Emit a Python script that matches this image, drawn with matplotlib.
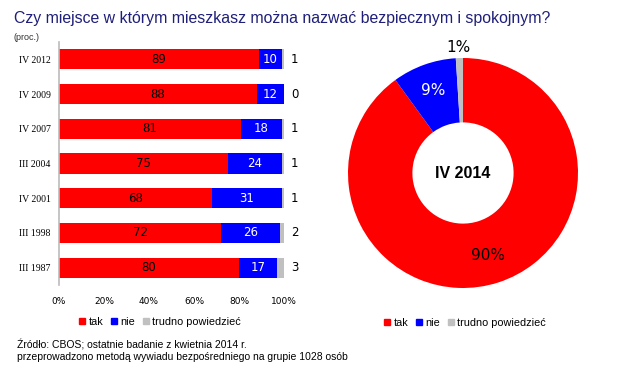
import matplotlib
matplotlib.use('Agg')
import matplotlib.pyplot as plt
from matplotlib.patches import Patch
import numpy as np

# ── DATA ──────────────────────────────────────────────────────
years = ["IV 2012", "IV 2009", "IV 2007", "III 2004", "IV 2001", "III 1998", "III 1987"]
tak = [89, 88, 81, 75, 68, 72, 80]
nie = [10, 12, 18, 24, 31, 26, 17]
trudno = [1, 0, 1, 1, 1, 2, 3]

donut_labels = ["tak", "nie", "trudno powiedzieć"]
donut_vals = [90, 9, 1]
donut_year = "IV 2014"

RED, BLUE, GREY = '#FF0000', '#0000FF', '#C0C0C0'
NAVY = '#1F1F7A'
SANS = 'Liberation Sans'

fig = plt.figure(figsize=(6.2, 3.72), dpi=100)

fig.text(14/620, 1 - 18/372, "Czy miejsce w którym mieszkasz można nazwać bezpiecznym i spokojnym?",
         fontsize=11.4, color=NAVY, va='center', ha='left', fontfamily=SANS)
fig.text(14/620, 1 - 37/372, "(proc.)", fontsize=6.5, color='#333333', va='center', fontfamily=SANS)

# ── BARS ──────────────────────────────────────────────────────
ax = fig.add_axes([59/620, 1 - 285/372, 225/620, 243/372])
y = np.arange(len(years))
h = 0.58
ax.barh(y, tak, height=h, color=RED)
ax.barh(y, nie, left=tak, height=h, color=BLUE)
ax.barh(y, trudno, left=np.add(tak, nie), height=h, color=GREY)
for i in range(len(years)):
    ax.text(tak[i] / 2, y[i], str(tak[i]), ha='center', va='center', fontsize=8.5, color='black')
    ax.text(tak[i] + nie[i] / 2, y[i], str(nie[i]), ha='center', va='center', fontsize=8.5, color='white')
    ax.text(103, y[i], str(trudno[i]), ha='left', va='center', fontsize=8.5, color='black', clip_on=False)
ax.set_ylim(len(years) - 0.5, -0.5)
ax.set_xlim(0, 100)
ax.set_yticks(y)
ax.set_yticklabels(years, fontfamily='Liberation Serif', fontsize=7)
ax.set_xticks(range(0, 101, 20))
ax.set_xticklabels([f"{v}%" for v in range(0, 101, 20)], fontsize=6.5)
ax.tick_params(axis='x', length=0, pad=9)
ax.tick_params(axis='y', length=0, pad=6)
for s in ['top', 'right', 'bottom']:
    ax.spines[s].set_visible(False)
ax.spines['left'].set_color('#BBBBBB')
ax.spines['left'].set_linewidth(1.2)

handles = [Patch(color=c) for c in (RED, BLUE, GREY)]
fig.legend(handles, donut_labels, loc='center', bbox_to_anchor=(160/620, 1 - 322/372),
           ncol=3, frameon=False, handlelength=0.55, handleheight=0.55,
           handletextpad=0.3, columnspacing=0.7, prop={'family': SANS, 'size': 7.8})

# ── DONUT ─────────────────────────────────────────────────────
r = 115
axd = fig.add_axes([(463 - r)/620, 1 - (173 + r)/372, 2*r/620, 2*r/372])
wedges, _ = axd.pie(donut_vals, colors=[RED, BLUE, GREY], startangle=90, counterclock=False,
                    wedgeprops=dict(width=0.56))
axd.set_xlim(-1, 1)
axd.set_ylim(-1, 1)
axd.set_aspect('equal')
axd.text(0.22, -0.72, f"{donut_vals[0]}%", ha='center', va='center', fontsize=11, color='black')
axd.text(-0.26, 0.72, f"{donut_vals[1]}%", ha='center', va='center', fontsize=11, color='white')
axd.text(-0.04, 1.09, f"{donut_vals[2]}%", ha='center', va='center', fontsize=11, color='black')
axd.text(0, 0, donut_year, ha='center', va='center', fontsize=11.5, fontweight='bold',
         fontfamily=SANS)

fig.legend(handles, donut_labels, loc='center', bbox_to_anchor=(465/620, 1 - 323/372),
           ncol=3, frameon=False, handlelength=0.55, handleheight=0.55,
           handletextpad=0.3, columnspacing=0.7, prop={'family': SANS, 'size': 7.8})

fig.text(17/620, 1 - 345/372, "Źródło: CBOS; ostatnie badanie z kwietnia 2014 r.",
         fontsize=7.5, va='center', fontfamily=SANS)
fig.text(17/620, 1 - 357/372, "przeprowadzono metodą wywiadu bezpośredniego na grupie 1028 osób",
         fontsize=7.5, va='center', fontfamily=SANS)

plt.savefig("out.png", dpi=100)
